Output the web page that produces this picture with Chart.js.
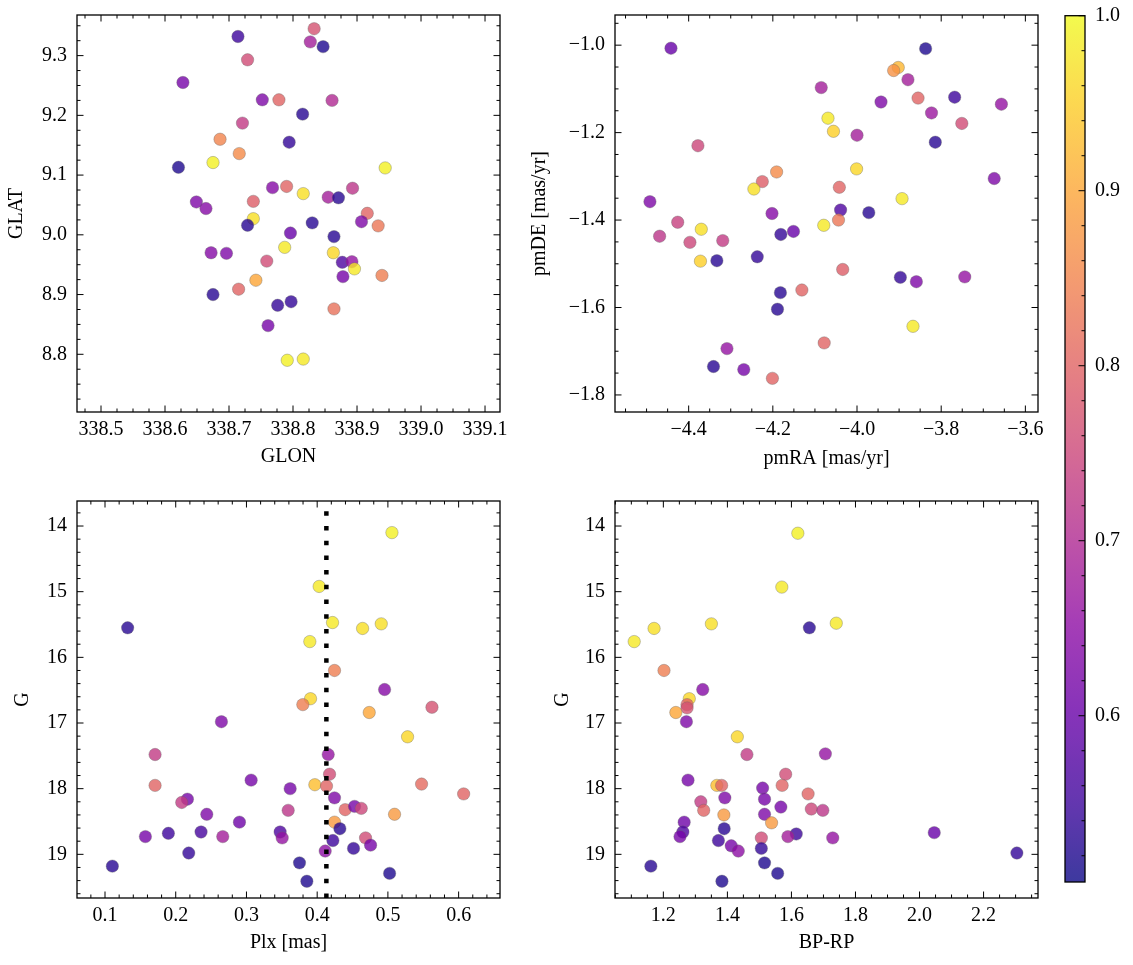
<!DOCTYPE html>
<html><head><meta charset="utf-8">
<script src="https://cdn.jsdelivr.net/npm/chart.js@4/dist/chart.umd.min.js"></script>
<style>
html,body{margin:0;padding:0;background:#fff;width:1133px;height:965px;overflow:hidden}
canvas{position:absolute;left:0;top:0}
</style></head><body>
<canvas id="cTL" width="1133" height="965"></canvas>
<canvas id="cTR" width="1133" height="965"></canvas>
<canvas id="cBL" width="1133" height="965"></canvas>
<canvas id="cBR" width="1133" height="965"></canvas>
<canvas id="cCB" width="1133" height="965"></canvas>
<script>
// ---------- data ----------
const glon = [338.833,338.714,338.827,338.847,338.729,338.628,338.752,338.778,338.861,338.815,338.721,338.686,338.794,338.716,338.675,338.621,338.944,338.768,338.790,338.816,338.893,338.855,338.871,338.649,338.738,338.664,338.916,338.738,338.729,338.830,338.907,338.933,338.796,338.864,338.672,338.696,338.787,338.863,338.759,338.877,338.892,338.896,338.878,338.939,338.742,338.675,338.715,338.776,338.797,338.864,338.761,338.791,338.816];
const glat = [9.345,9.332,9.323,9.315,9.293,9.255,9.226,9.226,9.225,9.202,9.187,9.160,9.155,9.136,9.121,9.113,9.112,9.079,9.081,9.069,9.078,9.063,9.062,9.055,9.056,9.044,9.036,9.027,9.016,9.020,9.022,9.015,9.003,8.997,8.970,8.969,8.979,8.970,8.956,8.954,8.955,8.943,8.930,8.932,8.924,8.900,8.909,8.882,8.888,8.876,8.848,8.790,8.792];
const probPos = [0.77,0.55,0.68,0.52,0.76,0.62,0.63,0.80,0.70,0.53,0.73,0.85,0.54,0.86,0.99,0.52,0.99,0.64,0.80,0.97,0.72,0.68,0.53,0.63,0.79,0.64,0.80,0.97,0.53,0.53,0.63,0.83,0.60,0.53,0.64,0.63,0.98,0.96,0.76,0.57,0.66,0.98,0.62,0.84,0.90,0.53,0.80,0.54,0.54,0.82,0.62,0.99,0.98];

const pmra = [-4.442,-3.837,-3.902,-3.913,-3.879,-4.085,-3.943,-3.855,-3.768,-3.657,-3.823,-4.069,-4.056,-3.751,-4.000,-3.814,-4.378,-4.001,-4.191,-4.225,-4.245,-4.042,-3.674,-3.893,-4.492,-4.202,-4.039,-3.972,-4.044,-4.426,-4.370,-4.079,-4.469,-4.397,-4.319,-4.181,-4.151,-4.237,-4.372,-4.333,-4.034,-3.897,-3.859,-3.744,-4.131,-4.182,-4.189,-3.867,-4.078,-4.309,-4.341,-4.269,-4.201];
const pmde = [-1.007,-1.008,-1.051,-1.058,-1.079,-1.097,-1.130,-1.121,-1.119,-1.135,-1.155,-1.167,-1.197,-1.179,-1.206,-1.222,-1.230,-1.283,-1.290,-1.312,-1.329,-1.325,-1.305,-1.351,-1.358,-1.385,-1.377,-1.383,-1.400,-1.405,-1.421,-1.412,-1.437,-1.451,-1.447,-1.433,-1.426,-1.484,-1.494,-1.493,-1.513,-1.531,-1.541,-1.530,-1.560,-1.566,-1.604,-1.643,-1.681,-1.694,-1.735,-1.742,-1.762];
const probPm = [0.60,0.52,0.92,0.87,0.68,0.68,0.63,0.80,0.55,0.66,0.67,0.98,0.95,0.76,0.68,0.53,0.75,0.96,0.86,0.79,0.97,0.80,0.63,0.98,0.63,0.64,0.57,0.53,0.83,0.74,0.97,0.98,0.72,0.75,0.73,0.54,0.60,0.54,0.95,0.53,0.79,0.54,0.63,0.66,0.80,0.53,0.53,0.98,0.80,0.66,0.53,0.62,0.80];

const plx = [0.5057,0.4028,0.1320,0.4217,0.4642,0.4906,0.3896,0.4245,0.4953,0.3906,0.3797,0.5623,0.4736,0.2646,0.5278,0.1708,0.4156,0.4175,0.1708,0.3066,0.3618,0.3967,0.4132,0.5476,0.6071,0.4245,0.2165,0.2085,0.2439,0.3590,0.4396,0.4528,0.4623,0.5094,0.2901,0.4245,0.4321,0.1571,0.1896,0.2358,0.2665,0.3476,0.3505,0.4222,0.4684,0.4755,0.4514,0.4113,0.2184,0.1104,0.3750,0.5024,0.3854];
const gPlx = [14.10,14.92,15.55,15.47,15.56,15.49,15.76,16.20,16.49,16.63,16.72,16.76,16.84,16.98,17.21,17.48,17.48,17.78,17.95,17.87,18.00,17.94,17.96,17.93,18.08,18.14,18.16,18.21,18.39,18.33,18.32,18.27,18.30,18.39,18.51,18.51,18.61,18.73,18.68,18.66,18.73,18.66,18.75,18.79,18.75,18.86,18.91,18.95,18.98,19.18,19.13,19.29,19.41];
const probPlx = [0.99,0.98,0.53,0.98,0.97,0.97,0.98,0.84,0.64,0.96,0.84,0.77,0.90,0.63,0.96,0.73,0.66,0.76,0.80,0.62,0.62,0.93,0.80,0.81,0.80,0.63,0.62,0.73,0.63,0.72,0.80,0.62,0.75,0.88,0.61,0.88,0.53,0.62,0.55,0.56,0.68,0.57,0.66,0.55,0.76,0.62,0.54,0.65,0.54,0.53,0.52,0.52,0.52];
const plxRef = 0.413;

const bprp = [1.620,1.570,1.350,1.740,1.171,1.656,1.109,1.202,1.323,1.281,1.274,1.274,1.239,1.272,1.431,1.461,1.706,1.582,1.277,1.367,1.382,1.571,1.510,1.652,1.392,1.516,1.317,1.326,1.567,1.662,1.698,1.516,1.389,1.265,1.538,1.390,1.261,1.252,1.615,1.589,2.046,1.506,1.729,1.372,1.412,1.434,1.506,2.304,1.161,1.516,1.557,1.383];
const gCol = [14.11,14.93,15.49,15.48,15.56,15.55,15.76,16.20,16.49,16.63,16.72,16.77,16.84,16.98,17.21,17.48,17.47,17.78,17.87,17.95,17.95,17.95,17.99,18.08,18.14,18.16,18.20,18.33,18.28,18.31,18.33,18.39,18.40,18.51,18.52,18.61,18.66,18.73,18.69,18.73,18.67,18.75,18.75,18.79,18.87,18.95,18.91,18.98,19.18,19.13,19.29,19.41];
const probCol = [0.99,0.98,0.97,0.98,0.97,0.53,0.98,0.84,0.64,0.96,0.80,0.77,0.90,0.63,0.96,0.73,0.66,0.76,0.62,0.93,0.80,0.80,0.62,0.80,0.63,0.62,0.73,0.80,0.62,0.75,0.72,0.63,0.88,0.61,0.88,0.53,0.57,0.62,0.55,0.68,0.60,0.76,0.66,0.55,0.62,0.65,0.54,0.54,0.53,0.52,0.52,0.52];

const cbarMin = 0.505, cbarMax = 1.0;
const cbarTicks = [0.6, 0.7, 0.8, 0.9, 1.0];

// ---------- colour map ----------
const PLASMA = ['#0d0887','#41049d','#6a00a8','#8f0da4','#b12a90','#cc4778','#e16462','#f2844b','#fca636','#fcce25','#f0f921'];
const PL = PLASMA.map(h => [parseInt(h.slice(1,3),16), parseInt(h.slice(3,5),16), parseInt(h.slice(5,7),16)]);
function plasma(t, a) {
  t = Math.max(0, Math.min(1, t));
  const f = t * 10, i = Math.min(9, Math.floor(f)), u = f - i;
  const c = [0,1,2].map(k => Math.round(PL[i][k] + (PL[i+1][k] - PL[i][k]) * u));
  return `rgba(${c[0]},${c[1]},${c[2]},${a})`;
}
const probColor = p => plasma((p - cbarMin) / (cbarMax - cbarMin), 0.8);

// ---------- plugins ----------
const framePlugin = {
  id: 'frame',
  afterDatasetsDraw(chart, args, o) {
    const {ctx, chartArea: a} = chart;
    ctx.save();
    ctx.strokeStyle = '#000';
    ctx.lineWidth = 1;
    const ML = 6.5, mL = 3.5;
    const each = (scale, major, minor, fn) => {
      const lo = Math.min(scale.min, scale.max), hi = Math.max(scale.min, scale.max);
      const k0 = Math.ceil(lo / minor - 1e-9), k1 = Math.floor(hi / minor + 1e-9);
      for (let k = k0; k <= k1; k++) {
        const v = k * minor, r = v / major;
        fn(scale.getPixelForValue(v), Math.abs(r - Math.round(r)) < 1e-6 ? ML : mL);
      }
    };
    const s = o.sides || 'lrtb';
    ctx.beginPath();
    if (o.x) each(chart.scales.x, o.x[0], o.x[1], (p, L) => {
      if (s.includes('b')) { ctx.moveTo(p, a.bottom); ctx.lineTo(p, a.bottom - L); }
      if (s.includes('t')) { ctx.moveTo(p, a.top); ctx.lineTo(p, a.top + L); }
    });
    if (o.y) each(chart.scales.y, o.y[0], o.y[1], (p, L) => {
      if (s.includes('l')) { ctx.moveTo(a.left, p); ctx.lineTo(a.left + L, p); }
      if (s.includes('r')) { ctx.moveTo(a.right, p); ctx.lineTo(a.right - L, p); }
    });
    ctx.stroke();
    ctx.lineWidth = 1.3;
    ctx.strokeRect(a.left, a.top, a.right - a.left, a.bottom - a.top);
    ctx.restore();
  }
};
const cbarPlugin = {
  id: 'cbar',
  beforeDatasetsDraw(chart) {
    const {ctx, chartArea: a} = chart;
    const ys = chart.scales.y;
    const g = ctx.createLinearGradient(0, ys.getPixelForValue(cbarMin), 0, ys.getPixelForValue(cbarMax));
    for (let i = 0; i <= 50; i++) g.addColorStop(i / 50, plasma(i / 50, 0.8));
    ctx.save();
    ctx.fillStyle = g;
    ctx.fillRect(a.left, a.top, a.right - a.left, a.bottom - a.top);
    ctx.restore();
  }
};

Chart.defaults.font.family = "'Liberation Serif', 'DejaVu Serif', serif";
Chart.defaults.font.size = 20;
Chart.defaults.color = '#000';

const W = 1133, H = 965, XH = 60, LH2 = 12;
const minus = v => (v < 0 ? '\u2212' : '') + Math.abs(v).toFixed(1);
const noPad = s => { s.paddingLeft = 0; s.paddingRight = 0; s.paddingTop = 0; s.paddingBottom = 0; };

function makePanel(id, area, cfg) {
  const padLeft = cfg.padLeft;
  const yW = area.l - padLeft;
  new Chart(document.getElementById(id), {
    type: 'scatter',
    data: { datasets: cfg.datasets },
    options: {
      responsive: false, animation: false, events: [], devicePixelRatio: 1,
      layout: { padding: { left: padLeft, right: W - area.r, top: area.t, bottom: H - area.b - XH } },
      plugins: { legend: { display: false }, tooltip: { enabled: false },
        frame: { x: [cfg.x.step, cfg.x.minor], y: [cfg.y.step, cfg.y.minor] } },
      scales: {
        x: {
          type: 'linear', min: cfg.x.min, max: cfg.x.max,
          grid: { display: false, drawTicks: false }, border: { display: false },
          ticks: { stepSize: cfg.x.step, includeBounds: false, autoSkip: false, maxRotation: 0, padding: 6, callback: cfg.x.fmt },
          title: { display: true, text: cfg.x.title, padding: { top: 0, bottom: area.b + XH - LH2 - cfg.x.titleY } },
          afterFit: s => { s.height = XH; noPad(s); }
        },
        y: {
          type: 'linear', min: cfg.y.min, max: cfg.y.max, reverse: !!cfg.y.reverse,
          grid: { display: false, drawTicks: false }, border: { display: false },
          ticks: { stepSize: cfg.y.step, includeBounds: false, autoSkip: false, padding: 10, callback: cfg.y.fmt },
          title: { display: true, text: cfg.y.title, padding: { top: cfg.y.titleX - padLeft - LH2, bottom: 0 } },
          afterFit: s => { s.width = yW; noPad(s); }
        }
      }
    },
    plugins: [framePlugin]
  });
}

function scatterSet(xs, ys, ps) {
  return {
    data: xs.map((x, i) => ({ x: x, y: ys[i] })),
    pointRadius: 6.2,
    pointBackgroundColor: ps.map(probColor),
    pointBorderColor: 'rgba(100,100,100,0.6)',
    pointBorderWidth: 0.6,
    order: 1
  };
}

const f1 = v => v.toFixed(1), f0 = v => v.toFixed(0);

makePanel('cTL', { l: 77, r: 500, t: 15, b: 412 }, {
  padLeft: 0,
  datasets: [scatterSet(glon, glat, probPos)],
  x: { min: 338.4625, max: 339.1234, step: 0.1, minor: 0.025, fmt: f1, title: 'GLON', titleY: 457 },
  y: { min: 8.7034, max: 9.368, step: 0.1, minor: 0.025, fmt: f1, title: 'GLAT', titleX: 17 }
});
makePanel('cTR', { l: 615, r: 1038, t: 15, b: 412 }, {
  padLeft: 500,
  datasets: [scatterSet(pmra, pmde, probPm)],
  x: { min: -4.575, max: -3.570, step: 0.2, minor: 0.05, fmt: minus, title: 'pmRA [mas/yr]', titleY: 459 },
  y: { min: -1.839, max: -0.931, step: 0.2, minor: 0.05, fmt: minus, title: 'pmDE [mas/yr]', titleX: 540 }
});
makePanel('cBL', { l: 77, r: 500, t: 501, b: 898 }, {
  padLeft: 0,
  datasets: [
    { type: 'line', data: [{ x: plxRef, y: 19.665 }, { x: plxRef, y: 13.619 }], borderColor: '#000', borderWidth: 4.5,
      borderDash: [4.5, 10.2], borderCapStyle: 'butt', pointRadius: 0, fill: false, order: 0 },
    scatterSet(plx, gPlx, probPlx)
  ],
  x: { min: 0.0604, max: 0.6585, step: 0.1, minor: 0.02, fmt: f1, title: 'Plx [mas]', titleY: 943 },
  y: { min: 13.619, max: 19.665, reverse: true, step: 1, minor: 0.2, fmt: f0, title: 'G', titleX: 23 }
});
makePanel('cBR', { l: 615, r: 1038, t: 501, b: 898 }, {
  padLeft: 500,
  datasets: [scatterSet(bprp, gCol, probCol)],
  x: { min: 1.049, max: 2.370, step: 0.2, minor: 0.05, fmt: f1, title: 'BP-RP', titleY: 943 },
  y: { min: 13.619, max: 19.665, reverse: true, step: 1, minor: 0.2, fmt: f0, title: 'G', titleX: 563 }
});

// colour bar
new Chart(document.getElementById('cCB'), {
  type: 'scatter',
  data: { datasets: [] },
  options: {
    responsive: false, animation: false, events: [], devicePixelRatio: 1,
    layout: { padding: { left: 1065, right: 0, top: 15.7, bottom: H - 882 } },
    plugins: { legend: { display: false }, tooltip: { enabled: false },
      frame: { y: [0.1, 0.02], sides: 'r' } },
    scales: {
      x: { display: false, min: 0, max: 1 },
      y: {
        position: 'right', min: cbarMin, max: cbarMax,
        grid: { display: false, drawTicks: false }, border: { display: false },
        ticks: { stepSize: 0.1, includeBounds: false, autoSkip: false, padding: 10, callback: v => v.toFixed(1) },
        afterBuildTicks: s => { s.ticks = cbarTicks.map(v => ({ value: v })); },
        afterFit: s => { s.width = W - 1085; noPad(s); }
      }
    }
  },
  plugins: [cbarPlugin, framePlugin]
});
</script>
</body></html>
